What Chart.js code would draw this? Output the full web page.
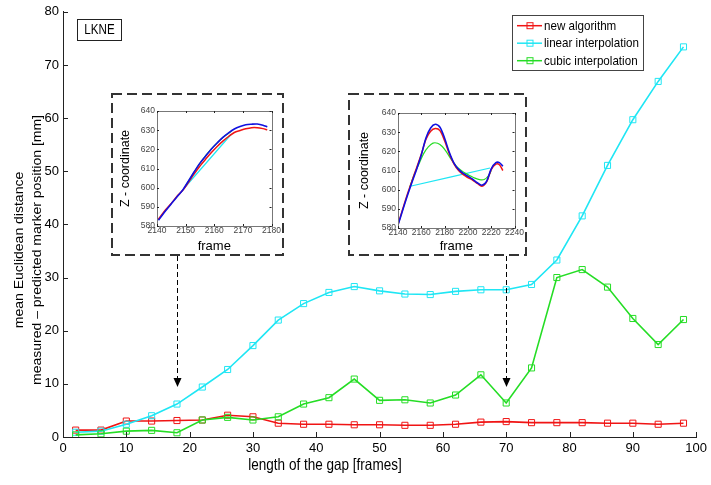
<!DOCTYPE html>
<html><head><meta charset="utf-8">
<script src="https://cdn.jsdelivr.net/npm/chart.js@4.4.1/dist/chart.umd.min.js"></script>
<style>
html,body{margin:0;padding:0;background:#fff;}
#wrap{position:relative;width:711px;height:485px;overflow:hidden;}
#main{position:absolute;left:0;top:0;}
.inset{position:absolute;background:#fff;}
</style></head><body>
<div id="wrap">
<canvas id="main" width="711" height="485"></canvas>
<canvas id="in1" class="inset" width="167" height="157" style="left:114px;top:96px"></canvas>
<canvas id="in2" class="inset" width="173" height="157" style="left:351px;top:96px"></canvas>
</div>
<script>
// ---------- main chart data ----------
const gapLengths = [2,6,10,14,18,22,26,30,34,38,42,46,50,54,58,62,66,70,74,78,82,86,90,94,98];
const newAlgorithm = [1.3,1.3,3.0,3.0,3.1,3.2,4.1,3.8,2.6,2.4,2.4,2.3,2.3,2.2,2.2,2.4,2.8,2.9,2.7,2.7,2.7,2.6,2.6,2.4,2.6];
const linearInterpolation = [0.9,1.1,2.4,4.0,6.2,9.4,12.7,17.2,22.0,25.1,27.2,28.3,27.5,26.9,26.8,27.4,27.7,27.7,28.7,33.3,41.6,51.1,59.7,66.9,73.4];
const cubicInterpolation = [0.4,0.6,1.1,1.25,0.8,3.2,3.7,3.2,3.8,6.2,7.4,10.9,6.9,7.0,6.4,7.9,11.7,6.4,13.0,30.0,31.5,28.2,22.3,17.4,22.1];
const seriesLabels = ['new algorithm','linear interpolation','cubic interpolation'];
const xTickValues = [0,10,20,30,40,50,60,70,80,90,100];
const yTickValues = [0,10,20,30,40,50,60,70,80];
const xTitle = 'length of the gap [frames]';
const yTitleLines = ['mean Euclidean distance','measured \u2013 predicted marker position [mm]'];
const markerLabel = 'LKNE';
const arrowTargets = [18, 70];     // gap lengths shown in the insets
const arrowTipValue = 9.4;

// ---------- inset 1 (gap 18 frames) ----------
const in1Frames = [2140.5,2143,2145,2147,2149,2151,2153,2155,2157,2159,2161,2163,2165,2167,2169,2171,2173,2175,2177,2178.5];
const in1Measured = [583.0,587.9,591.6,595.3,598.8,603.5,608.3,612.8,616.5,620.2,623.3,626.2,628.6,630.6,631.9,632.8,633.1,633.2,632.6,631.7];
const in1NewAlg = [583.5,588.5,591.8,595.5,598.6,602.8,607.2,611.3,614.9,618.3,621.5,624.3,626.7,628.8,629.8,630.7,631.3,631.3,630.8,630.2];
const in1CubicFrames = [2150,2152,2154,2156,2158,2160,2162,2164,2166];
const in1Cubic = [601.0,605.8,610.5,614.8,618.6,621.8,624.8,627.3,629.4];
const in1LinearFrames = [2150,2166];
const in1Linear = [600.6,628.0];
const in1XTicks = [2140,2150,2160,2170,2180];

// ---------- inset 2 (gap 70 frames) ----------
const in2Frames = [2140,2144,2148,2152,2156,2160,2164,2168,2172,2176,2180,2184,2188,2192,2196,2200,2204,2208,2212,2216,2220,2224,2227,2230];
const in2Measured = [581.5,589.3,596.8,603.9,610.7,618.1,627.0,632.2,634.1,632.6,626.8,619.5,613.9,610.6,608.5,607.0,605.5,603.6,602.3,604.3,610.9,614.1,614.1,612.2];
const in2NewAlg = [581.8,589.8,597.5,604.5,611.5,618.5,626.3,630.5,631.9,630.8,625.5,618.8,613.5,610.0,607.8,606.3,605.0,603.3,601.8,604.0,610.5,613.3,613.0,610.0];
const in2CubicFrames = [2150,2154,2158,2162,2166,2170,2174,2178,2182,2186,2190,2194,2198,2202,2206,2210,2214,2218,2220];
const in2Cubic = [601.2,608.0,613.5,618.8,622.3,624.3,624.2,622.5,619.3,615.5,612.3,610.2,608.5,607.2,606.0,605.2,605.3,607.5,610.0];
const in2LinearFrames = [2150.5,2219];
const in2Linear = [601.8,611.3];
const in2XTicks = [2140,2160,2180,2200,2220,2240];
const insetYTicks = [580,590,600,610,620,630,640];

const FONT = '"Liberation Sans", Arial, sans-serif';
const RED = '#f01414', CYAN = '#1fe6f4', GREEN = '#25dd25', BLUE = '#1010e0';
const tickFont = { family: FONT, size: 13 };
const insetTickFont = { family: FONT, size: 8.5 };
const frameFont = { family: FONT, size: 13, lineHeight: 1 };

const toXY = (xs, ys) => xs.map((x, i) => ({x: x, y: ys[i]}));

// text drawn with a horizontal squeeze (the reference figure is stretched vertically)
function squeezedText(ctx, text, x, y, size, sx, align) {
  ctx.save();
  ctx.translate(x, y); ctx.scale(sx, 1);
  ctx.font = size + 'px ' + FONT; ctx.textAlign = align; ctx.textBaseline = 'middle';
  ctx.fillText(text, 0, 0);
  ctx.restore();
}

// inward tick marks helper
function inwardTicks(chart, len, sides) {
  const ctx = chart.ctx, a = chart.chartArea, xs = chart.scales.x, ys = chart.scales.y;
  ctx.save(); ctx.strokeStyle = '#222'; ctx.lineWidth = 1; ctx.beginPath();
  xs.ticks.forEach(t => {
    const px = Math.round(xs.getPixelForValue(t.value)) + 0.5;
    ctx.moveTo(px, a.bottom); ctx.lineTo(px, a.bottom - len);
    if (sides.top) { ctx.moveTo(px, a.top); ctx.lineTo(px, a.top + len); }
  });
  ys.ticks.forEach(t => {
    const py = Math.round(ys.getPixelForValue(t.value)) + 0.5;
    ctx.moveTo(a.left, py); ctx.lineTo(a.left + len, py);
    if (sides.right) { ctx.moveTo(a.right, py); ctx.lineTo(a.right - len, py); }
  });
  ctx.stroke(); ctx.restore();
}

const mainDecor = {
  id: 'mainDecor',
  afterDraw(chart) {
    const ctx = chart.ctx, xs = chart.scales.x, ys = chart.scales.y;
    inwardTicks(chart, 5, {});
    ctx.save();
    ctx.fillStyle = '#000';
    // axis titles
    squeezedText(ctx, xTitle, 325, 465, 16.5, 0.82, 'center');
    ctx.font = '14px ' + FONT; ctx.textAlign = 'center'; ctx.textBaseline = 'middle';
    ctx.save(); ctx.translate(19, 250); ctx.rotate(-Math.PI / 2); ctx.scale(1, 0.92);
    ctx.fillText(yTitleLines[0], 0, 0); ctx.restore();
    ctx.save(); ctx.translate(37, 250); ctx.rotate(-Math.PI / 2); ctx.scale(1, 0.92);
    ctx.fillText(yTitleLines[1], 0, 0); ctx.restore();
    // LKNE box
    ctx.strokeStyle = '#222'; ctx.lineWidth = 1;
    ctx.strokeRect(77.5, 19.5, 44, 21);
    squeezedText(ctx, markerLabel, 99.5, 30.5, 14, 0.83, 'center');
    // legend
    const lx = 512, ly = 15, lw = 131, lh = 55;
    ctx.fillStyle = '#fff'; ctx.fillRect(lx, ly, lw, lh);
    ctx.strokeStyle = '#444'; ctx.strokeRect(lx + 0.5, ly + 0.5, lw, lh);
    chart.data.datasets.forEach((ds, i) => {
      const y = 25.7 + i * 17.5;
      ctx.strokeStyle = ds.borderColor; ctx.lineWidth = 1.5;
      ctx.beginPath(); ctx.moveTo(517, y); ctx.lineTo(542, y); ctx.stroke();
      ctx.lineWidth = 1; ctx.strokeRect(527, y - 3, 6, 6);
      ctx.fillStyle = '#000';
      squeezedText(ctx, ds.label, 544, y + 0.5, 13.5, 0.86, 'left');
    });
    // dashed inset boxes
    ctx.strokeStyle = '#333'; ctx.lineWidth = 2; ctx.setLineDash([10, 5]);
    ctx.strokeRect(112, 94, 171, 161);
    ctx.strokeRect(349, 94, 177, 161);
    // arrows
    ctx.lineWidth = 1; ctx.setLineDash([5, 3]); ctx.strokeStyle = '#000';
    const tipY = ys.getPixelForValue(arrowTipValue);
    arrowTargets.forEach(v => {
      const px = Math.round(xs.getPixelForValue(v)) + 0.5;
      ctx.beginPath(); ctx.moveTo(px, 256); ctx.lineTo(px, tipY - 8); ctx.stroke();
    });
    ctx.setLineDash([]); ctx.fillStyle = '#000';
    arrowTargets.forEach(v => {
      const px = Math.round(xs.getPixelForValue(v)) + 0.5;
      ctx.beginPath(); ctx.moveTo(px - 4, tipY - 9); ctx.lineTo(px + 4, tipY - 9); ctx.lineTo(px, tipY); ctx.closePath(); ctx.fill();
    });
    ctx.restore();
  }
};

function mainDataset(label, data, color, order) {
  return {
    label: label, data: toXY(gapLengths, data), borderColor: color, backgroundColor: color,
    borderWidth: 1.6, pointStyle: 'rect', pointRadius: 4.3, pointBorderWidth: 1,
    pointBackgroundColor: 'rgba(0,0,0,0)', pointBorderColor: color, tension: 0, order: order
  };
}

new Chart(document.getElementById('main'), {
  type: 'line',
  data: { datasets: [
    mainDataset(seriesLabels[0], newAlgorithm, RED, 2),
    mainDataset(seriesLabels[1], linearInterpolation, CYAN, 1),
    mainDataset(seriesLabels[2], cubicInterpolation, GREEN, 0)
  ]},
  options: {
    responsive: false, animation: false,
    layout: { padding: { left: 0, right: 14, top: 10, bottom: 0 } },
    plugins: { legend: { display: false }, tooltip: { enabled: false } },
    scales: {
      x: {
        type: 'linear', min: 0, max: 100,
        afterBuildTicks: s => { s.ticks = xTickValues.map(v => ({ value: v })); },
        afterFit: s => { s.height = 48; },
        grid: { display: false, drawTicks: false },
        border: { display: true, color: '#222', width: 1 },
        ticks: { color: '#000', font: tickFont, padding: 4, maxRotation: 0, callback: v => String(v) }
      },
      y: {
        type: 'linear', min: 0, max: 80,
        afterBuildTicks: s => { s.ticks = yTickValues.map(v => ({ value: v })); },
        afterFit: s => { s.width = 63; },
        grid: { display: false, drawTicks: false },
        border: { display: true, color: '#222', width: 1 },
        ticks: { color: '#000', font: tickFont, padding: 4, callback: v => String(v) }
      }
    }
  },
  plugins: [mainDecor]
});

// ---------- insets ----------
const insetDecor = {
  id: 'insetDecor',
  afterDraw(chart) {
    const ctx = chart.ctx, a = chart.chartArea;
    ctx.save(); ctx.strokeStyle = '#777'; ctx.lineWidth = 1;
    ctx.strokeRect(Math.round(a.left) + 0.5, Math.round(a.top) + 0.5, Math.round(a.right - a.left), Math.round(a.bottom - a.top));
    ctx.restore();
    inwardTicks(chart, 2, { top: true, right: true });
  }
};

function lineDs(data, color, width) {
  return { data: data, borderColor: color, borderWidth: width, pointRadius: 0, tension: 0.3, fill: false };
}

function makeInset(id, xMin, xMax, xTicks, datasets, yAxisWidth, xAxisHeight, padRight, padTop, yTitlePad) {
  new Chart(document.getElementById(id), {
    type: 'line',
    data: { datasets: datasets },
    options: {
      responsive: false, animation: false,
      layout: { padding: { left: 0, right: padRight, top: padTop, bottom: 0 } },
      plugins: { legend: { display: false }, tooltip: { enabled: false } },
      scales: {
        x: {
          type: 'linear', min: xMin, max: xMax,
          afterBuildTicks: s => { s.ticks = xTicks.map(v => ({ value: v })); },
          afterFit: s => { s.height = xAxisHeight; },
          grid: { display: false, drawTicks: false },
          border: { display: true, color: '#777', width: 1 },
          ticks: { color: '#444', font: insetTickFont, padding: 0, maxRotation: 0, autoSkip: false, callback: v => String(v) },
          title: { display: true, text: 'frame', color: '#000', font: frameFont, padding: 0 }
        },
        y: {
          type: 'linear', min: 580, max: 640,
          afterBuildTicks: s => { s.ticks = insetYTicks.map(v => ({ value: v })); },
          afterFit: s => { s.width = yAxisWidth; },
          grid: { display: false, drawTicks: false },
          border: { display: true, color: '#777', width: 1 },
          ticks: { color: '#444', font: insetTickFont, padding: 2, callback: v => String(v) },
          title: { display: true, text: 'Z - coordinate', color: '#000', font: { family: FONT, size: 12.5, lineHeight: 1 }, padding: { top: yTitlePad, bottom: 0 } }
        }
      }
    },
    plugins: [insetDecor]
  });
}

makeInset('in1', 2140, 2180, in1XTicks, [
  lineDs(toXY(in1Frames, in1Measured), BLUE, 1.6),
  lineDs(toXY(in1Frames, in1NewAlg), RED, 1.5),
  lineDs(toXY(in1CubicFrames, in1Cubic), GREEN, 1.2),
  lineDs(toXY(in1LinearFrames, in1Linear), CYAN, 1.2)
], 43, 27, 8, 15, 5);

makeInset('in2', 2140, 2240, in2XTicks, [
  lineDs(toXY(in2Frames, in2Measured), BLUE, 1.6),
  lineDs(toXY(in2Frames, in2NewAlg), RED, 1.5),
  lineDs(toXY(in2CubicFrames, in2Cubic), GREEN, 1.2),
  lineDs(toXY(in2LinearFrames, in2Linear), CYAN, 1.2)
], 47, 25, 9, 17, 7);
</script>
</body></html>
